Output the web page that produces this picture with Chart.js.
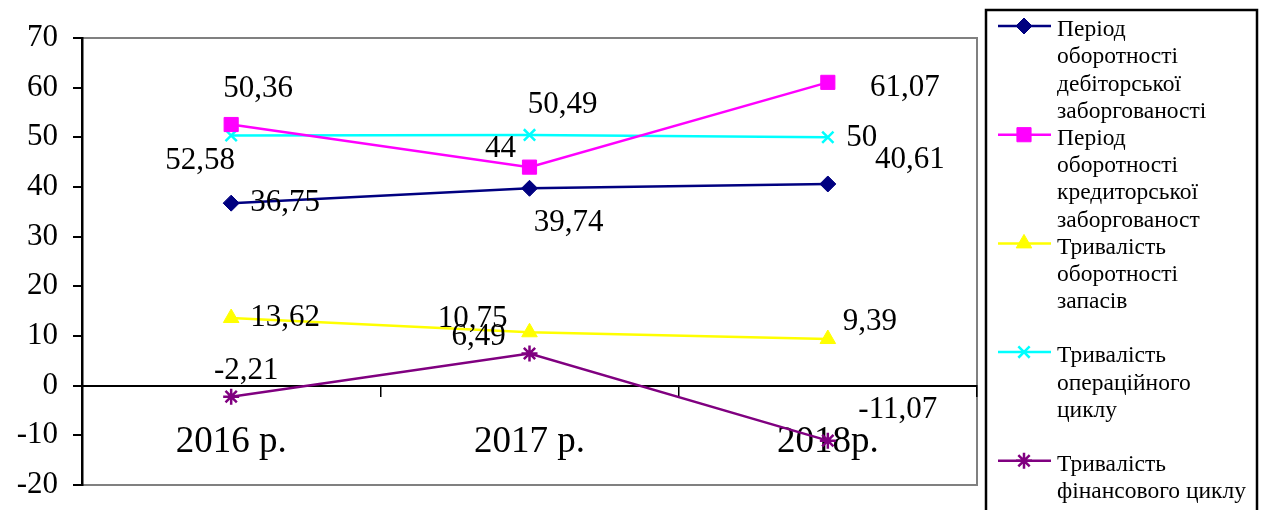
<!DOCTYPE html>
<html>
<head>
<meta charset="utf-8">
<script src="https://cdn.jsdelivr.net/npm/chart.js@4"></script>
<style>
  html, body { margin: 0; padding: 0; background: #fff; }
  canvas { display: block; }
</style>
</head>
<body>
<canvas id="myChart" width="1261" height="510"></canvas>
<script>
const categories = ['2016 р.', '2017 р.', '2018р.'];
const debtorPeriod = [36.75, 39.74, 40.61];
const creditorPeriod = [52.58, 44, 61.07];
const inventoryPeriod = [13.62, 10.75, 9.39];
const operatingCycle = [50.36, 50.49, 50];
const financialCycle = [-2.21, 6.49, -11.07];
const yMin = -20, yMax = 70, yStep = 10;

// legend text, wrapped like the original
const seriesNames = [
  ['Період', 'оборотності', 'дебіторської', 'заборгованості'],
  ['Період', 'оборотності', 'кредиторської', 'заборгованост'],
  ['Тривалість', 'оборотності', 'запасів'],
  ['Тривалість', 'операційного', 'циклу'],
  ['Тривалість', 'фінансового циклу']
];

// where each value label sits relative to its point (dx, dy)
const labelOffsets = [
  [[54, 0], [39, 35], [82, -24]],
  [[-31, 36], [-29, -18], [77, 6]],
  [[54, 0], [-57, -13], [42, -17]],
  [[27, -47], [33, -30], [34, 1]],
  [[15, -26], [-51, -17], [70, -31]]
];

const serif = "'Liberation Serif', 'Times New Roman', serif";
Chart.defaults.font.family = serif;
Chart.defaults.color = '#000';

function mkSet(i, data, color, style, radius) {
  return {
    label: seriesNames[i].join(' '),
    data: data,
    borderColor: color,
    backgroundColor: color,
    borderWidth: 2.5,
    pointStyle: style,
    pointRadius: radius,
    pointHoverRadius: radius,
    pointBorderWidth: (style === 'crossRot' || style === 'star') ? 2.5 : 1,
    tension: 0
  };
}

function noPad(scale) {
  scale.paddingTop = 0;
  scale.paddingBottom = 0;
}

const plotBorder = {
  id: 'plotBorder',
  beforeDraw(chart) {
    const {ctx, chartArea: {left, top, width, height}} = chart;
    ctx.save();
    ctx.strokeStyle = '#808080';
    ctx.lineWidth = 2;
    ctx.strokeRect(left, top, width, height);
    ctx.restore();
  }
};

const valueLabels = {
  id: 'valueLabels',
  afterDatasetsDraw(chart) {
    const ctx = chart.ctx;
    ctx.save();
    ctx.font = '31px ' + serif;
    ctx.fillStyle = '#000';
    ctx.textAlign = 'center';
    ctx.textBaseline = 'middle';
    chart.data.datasets.forEach((ds, i) => {
      chart.getDatasetMeta(i).data.forEach((pt, j) => {
        const off = labelOffsets[i][j];
        const txt = String(ds.data[j]).replace('.', ',');
        ctx.fillText(txt, pt.x + off[0], pt.y + off[1]);
      });
    });
    ctx.restore();
  }
};

const sideLegend = {
  id: 'sideLegend',
  afterDraw(chart) {
    const ctx = chart.ctx;
    const bx = 986, by = 10;
    ctx.save();
    ctx.strokeStyle = '#000';
    ctx.lineWidth = 2.5;
    ctx.strokeRect(bx, by, 271, 520);
    ctx.font = '23.5px ' + serif;
    ctx.fillStyle = '#000';
    ctx.textAlign = 'left';
    ctx.textBaseline = 'middle';
    chart.data.datasets.forEach((ds, i) => {
      const y0 = 26 + i * 108.7;
      ctx.strokeStyle = ds.borderColor;
      ctx.lineWidth = 2.5;
      ctx.beginPath();
      ctx.moveTo(998, y0);
      ctx.lineTo(1051, y0);
      ctx.stroke();
      if (Chart.helpers && Chart.helpers.drawPoint) {
        ctx.fillStyle = ds.backgroundColor;
        ctx.lineWidth = ds.pointBorderWidth;
        Chart.helpers.drawPoint(ctx, {pointStyle: ds.pointStyle, radius: ds.pointRadius, borderWidth: ds.pointBorderWidth, rotation: 0}, 1024, y0);
      }
      ctx.fillStyle = '#000';
      seriesNames[i].forEach((line, k) => {
        ctx.fillText(line, 1057, y0 + 4 + k * 27.3);
      });
    });
    ctx.restore();
  }
};

var ctx = document.getElementById('myChart').getContext('2d');
var chart = new Chart(ctx, {
  type: 'line',
  data: {
    labels: categories,
    datasets: [
      mkSet(0, debtorPeriod, '#000080', 'rectRot', 8),
      mkSet(1, creditorPeriod, '#FF00FF', 'rect', 10),
      mkSet(2, inventoryPeriod, '#FFFF00', 'triangle', 9),
      mkSet(3, operatingCycle, '#00FFFF', 'crossRot', 8),
      mkSet(4, financialCycle, '#800080', 'star', 8)
    ]
  },
  options: {
    responsive: false,
    devicePixelRatio: 1,
    animation: false,
    layout: { padding: { left: 0, top: 38, right: 284, bottom: 25 } },
    plugins: {
      legend: { display: false },
      tooltip: { enabled: false }
    },
    scales: {
      x: {
        position: { y: 0 },
        offset: true,
        afterFit: noPad,
        grid: { offset: true, drawOnChartArea: false, drawTicks: true, tickLength: 10, color: '#000', lineWidth: 1.5 },
        border: { display: true, color: '#000', width: 2 },
        ticks: { font: { size: 37 }, padding: 24, color: '#000', maxRotation: 0 }
      },
      y: {
        min: yMin,
        max: yMax,
        afterFit(scale) { scale.width = 82; noPad(scale); },
        grid: { drawOnChartArea: false, drawTicks: true, tickLength: 9, color: '#000', lineWidth: 2 },
        border: { display: true, color: '#000', width: 2.5 },
        ticks: { stepSize: yStep, font: { size: 31 }, padding: 15, color: '#000' }
      }
    }
  },
  plugins: [plotBorder, valueLabels, sideLegend]
});
</script>
</body>
</html>
